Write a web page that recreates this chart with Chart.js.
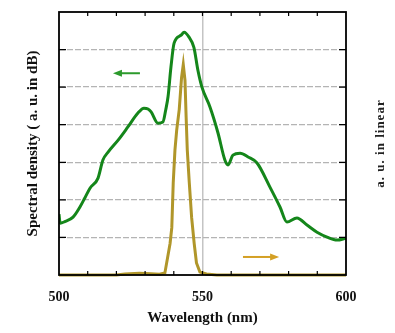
<!DOCTYPE html>
<html>
<head>
<meta charset="utf-8">
<script src="https://cdn.jsdelivr.net/npm/chart.js@4/dist/chart.umd.min.js"></script>
<style>
  html, body { margin: 0; padding: 0; background: #fff; }
</style>
</head>
<body>
<canvas id="spectrum" width="395" height="333"></canvas>
<script>
  // ***** data *****
  const greenWavelength = [500, 500.4, 502, 504.9, 507.3, 509, 510.8, 513.6, 515.3, 517.1, 520.6, 524, 527.5, 529.6, 531, 532.1, 534.5, 536.2, 537.2, 538, 539, 540.1, 542.5, 543.6, 545.3, 547, 548.4, 549.8, 552.6, 555.4, 557.8, 558.9, 560.6, 563.1, 565.9, 569, 573.5, 577, 579.4, 582.9, 586.4, 589.9, 593.4, 596.9, 600];
  const greenLevel = [1.62, 1.38, 1.42, 1.54, 1.81, 2.05, 2.31, 2.58, 3.06, 3.27, 3.59, 3.94, 4.31, 4.44, 4.42, 4.34, 4.04, 4.07, 4.4, 4.75, 5.53, 6.17, 6.38, 6.46, 6.33, 6.06, 5.45, 5.0, 4.47, 3.78, 3.06, 2.93, 3.19, 3.24, 3.14, 2.98, 2.34, 1.81, 1.41, 1.52, 1.33, 1.14, 1.01, 0.93, 0.98];

  const goldWavelength = [500, 520, 523, 528, 532, 535, 536.9, 538.7, 539.3, 539.8, 540.4, 541, 541.9, 542.7, 543.3, 543.9, 544.3, 544.7, 545.4, 546.2, 547.1, 547.9, 549.1, 551.4, 555, 600];
  const goldLevel = [0, 0, 0.004, 0.007, 0.005, 0.003, 0.008, 0.12, 0.18, 0.35, 0.475, 0.55, 0.63, 0.75, 0.8, 0.74, 0.6, 0.475, 0.35, 0.22, 0.12, 0.046, 0.011, 0.004, 0, 0];

  const xLabels = [500, 550, 600];
  const xGridAt = [550];

  // arrows: [from wavelength, to wavelength, level on left axis]
  const greenArrow = [528.2, 518.8, 5.37];
  const goldArrow = [564.1, 576.7, 0.48];

  const SERIF = '"Liberation Serif", "Times New Roman", serif';
  const GREEN = "#14861a";
  const GOLD = "#b0962a";

  const toPoints = (xs, ys) => xs.map((x, i) => ({ x: x, y: ys[i] }));

  function arrow(ctx, x1, x2, y, color) {
    const dir = Math.sign(x2 - x1);
    ctx.save();
    ctx.strokeStyle = color;
    ctx.fillStyle = color;
    ctx.lineWidth = 2;
    ctx.beginPath();
    ctx.moveTo(x1, y);
    ctx.lineTo(x2 - dir * 6, y);
    ctx.stroke();
    ctx.beginPath();
    ctx.moveTo(x2, y);
    ctx.lineTo(x2 - dir * 9, y - 3.5);
    ctx.lineTo(x2 - dir * 9, y + 3.5);
    ctx.closePath();
    ctx.fill();
    ctx.restore();
  }

  // frame, inward ticks, arrows, right title
  const framePlugin = {
    id: "frame",
    afterDraw(chart) {
      const { ctx, chartArea: a, scales } = chart;
      const xs = scales.x, ys = scales.y;
      ctx.save();
      ctx.strokeStyle = "#000";
      ctx.lineWidth = 1.2;
      ctx.beginPath();
      for (let v = 510; v < 600; v += 10) {
        const px = xs.getPixelForValue(v);
        ctx.moveTo(px, a.top); ctx.lineTo(px, a.top + 4);
        ctx.moveTo(px, a.bottom); ctx.lineTo(px, a.bottom - 4);
      }
      for (let v = 1; v < 7; v++) {
        const py = ys.getPixelForValue(v);
        ctx.moveTo(a.left, py); ctx.lineTo(a.left + 7, py);
        ctx.moveTo(a.right, py); ctx.lineTo(a.right - 7, py);
      }
      ctx.stroke();
      ctx.lineWidth = 1.8;
      ctx.strokeRect(a.left, a.top, a.right - a.left, a.bottom - a.top);
      ctx.restore();

      arrow(ctx, xs.getPixelForValue(greenArrow[0]), xs.getPixelForValue(greenArrow[1]),
        ys.getPixelForValue(greenArrow[2]), "#2c9a2c");
      arrow(ctx, xs.getPixelForValue(goldArrow[0]), xs.getPixelForValue(goldArrow[1]),
        ys.getPixelForValue(goldArrow[2]), "#d4a024");

      ctx.save();
      ctx.translate(381, (a.top + a.bottom) / 2);
      ctx.rotate(-Math.PI / 2);
      ctx.font = "bold 13px " + SERIF;
      ctx.letterSpacing = "1px";
      ctx.fillStyle = "#222";
      ctx.textAlign = "center";
      ctx.textBaseline = "middle";
      ctx.fillText("a. u. in linear", 0, 0);
      ctx.restore();
    },
  };

  const data = {
    datasets: [
      {
        label: "dB",
        data: toPoints(greenWavelength, greenLevel),
        yAxisID: "y",
        borderColor: GREEN,
        borderWidth: 3,
        pointRadius: 0,
        cubicInterpolationMode: "monotone",
      },
      {
        label: "linear",
        data: toPoints(goldWavelength, goldLevel),
        yAxisID: "y2",
        borderColor: GOLD,
        borderWidth: 3,
        pointRadius: 0,
        tension: 0,
        clip: 4,
      },
    ],
  };

  const config = {
    type: "line",
    data: data,
    plugins: [framePlugin],
    options: {
      responsive: false,
      animation: false,
      layout: { padding: { top: 12, right: 49, left: 0, bottom: 0 } },
      plugins: {
        legend: { display: false },
        tooltip: { enabled: false },
      },
      scales: {
        x: {
          type: "linear",
          min: 500,
          max: 600,
          afterFit: (s) => { s.height = 58; },
          border: { display: false },
          grid: {
            drawTicks: false,
            lineWidth: 1.5,
            color: (c) => (xGridAt.includes(c.tick.value) ? "#c4c4c4" : "rgba(0,0,0,0)"),
          },
          ticks: {
            stepSize: 10,
            padding: 14,
            maxRotation: 0,
            autoSkip: false,
            color: "#111",
            font: { family: SERIF, size: 14, weight: "bold" },
            callback: (v) => (xLabels.includes(v) ? String(v) : ""),
          },
          title: {
            display: true,
            text: "Wavelength (nm)",
            color: "#111",
            font: { family: SERIF, size: 15, weight: "bold" },
            padding: { top: 0, bottom: 6 },
          },
        },
        y: {
          position: "left",
          min: 0,
          max: 7,
          afterFit: (s) => { s.width = 59; },
          border: { display: false, dash: [6, 2] },
          grid: {
            drawTicks: false,
            lineWidth: 1.3,
            color: (c) => (c.tick.value > 0 && c.tick.value < 7 ? "#b4b4b4" : "rgba(0,0,0,0)"),
          },
          ticks: { stepSize: 1, display: false },
          title: {
            display: true,
            text: "Spectral density ( a. u. in dB)",
            color: "#111",
            font: { family: SERIF, size: 15, weight: "bold" },
            padding: { top: 24, bottom: 0 },
          },
        },
        y2: {
          position: "right",
          min: 0,
          max: 1,
          display: false,
          grid: { display: false },
        },
      },
    },
  };

  const spectrumChart = new Chart(document.getElementById("spectrum"), config);
</script>
</body>
</html>
